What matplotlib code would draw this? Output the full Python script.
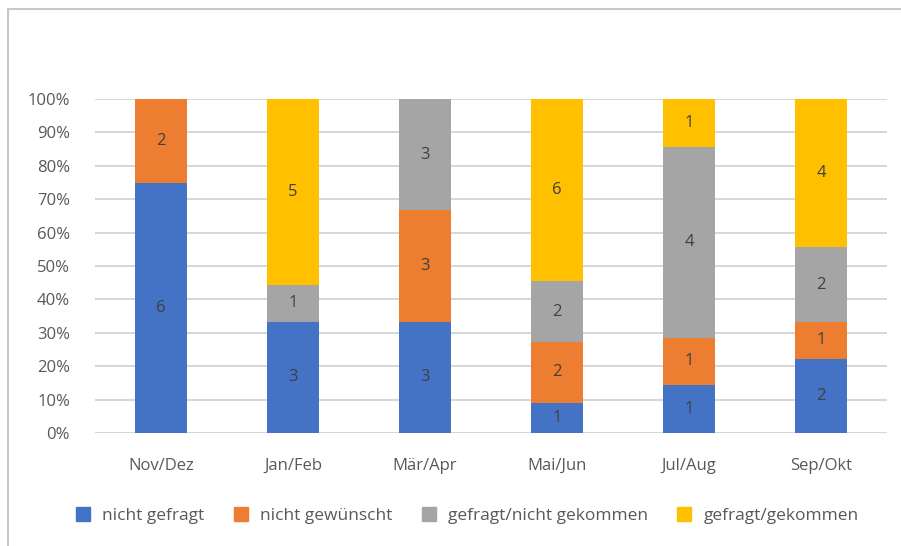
import matplotlib
matplotlib.use("Agg")
import matplotlib.pyplot as plt
from matplotlib.lines import Line2D
import numpy as np

categories = ["Nov/Dez", "Jan/Feb", "Mär/Apr", "Mai/Jun", "Jul/Aug", "Sep/Okt"]
series_names = ["nicht gefragt", "nicht gewünscht", "gefragt/nicht gekommen", "gefragt/gekommen"]
nicht_gefragt = [6, 3, 3, 1, 1, 2]
nicht_gewuenscht = [2, 0, 3, 2, 1, 1]
gefragt_nicht_gekommen = [0, 1, 3, 2, 4, 2]
gefragt_gekommen = [0, 5, 0, 6, 1, 4]
colors = ["#4472C4", "#ED7D31", "#A5A5A5", "#FFC000"]
yticklabels = ["0%", "10%", "20%", "30%", "40%", "50%", "60%", "70%", "80%", "90%", "100%"]

plt.rcParams['font.family'] = ['Open Sans', 'DejaVu Sans']
fig = plt.figure(figsize=(9.01, 5.46), dpi=100)
ax = fig.add_axes([95/901, 1-433/546, 792/901, 334/546])

data = np.array([nicht_gefragt, nicht_gewuenscht, gefragt_nicht_gekommen, gefragt_gekommen], dtype=float)
totals = data.sum(axis=0)
pct = data / totals
x = np.arange(len(categories))
bottom = np.zeros(len(categories))
for i, name in enumerate(series_names):
    ax.bar(x, pct[i], 0.4, bottom=bottom, color=colors[i], label=name, zorder=3)
    for j in range(len(categories)):
        if data[i, j] > 0:
            ax.text(x[j], bottom[j] + pct[i, j] / 2, f"{int(data[i, j])}", ha="center", va="center",
                    fontsize=12, color="#404040", zorder=4)
    bottom += pct[i]

ax.set_xlim(-0.5, len(categories) - 0.5)
ax.set_ylim(0, 1)
ax.set_yticks(np.linspace(0, 1, 11))
ax.set_yticklabels(yticklabels)
ax.set_xticks(x)
ax.set_xticklabels(categories)
ax.yaxis.grid(True, color="#D0D0D0", linewidth=1.2, zorder=0)
ax.tick_params(axis="both", length=0, colors="#595959", labelsize=12)
ax.tick_params(axis="y", pad=18)
ax.tick_params(axis="x", pad=18)
for s in ax.spines.values():
    s.set_visible(False)

handles = [Line2D([0], [0], marker="s", linestyle="", markersize=10, markerfacecolor=c, markeredgecolor=c) for c in colors]
fig.legend(handles, series_names, loc="center", bbox_to_anchor=(462/901, 1-516/546), ncol=4, frameon=False,
           fontsize=12.5, labelcolor="#595959", handletextpad=0.1, columnspacing=1.1)

# outer border lines (top and left)
fig.add_artist(Line2D([8/901, 1], [1-9/546, 1-9/546], color="#C8C8C8", linewidth=1.5, transform=fig.transFigure))
fig.add_artist(Line2D([8/901, 8/901], [0, 1-9/546], color="#C8C8C8", linewidth=1.5, transform=fig.transFigure))

fig.savefig("out.png", dpi=100)
